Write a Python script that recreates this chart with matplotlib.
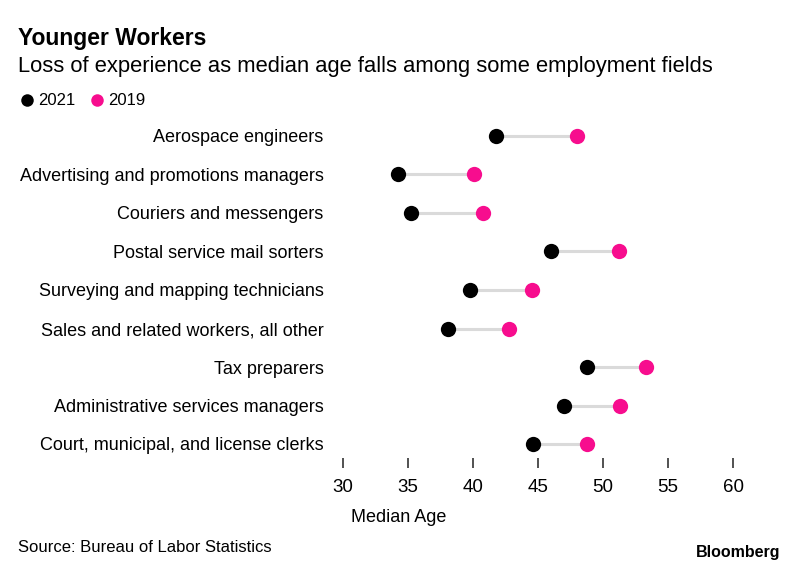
import matplotlib
matplotlib.use("Agg")
import matplotlib.pyplot as plt
from matplotlib.lines import Line2D

plt.rcParams['font.family'] = ['Liberation Sans', 'DejaVu Sans']

categories = [
    "Aerospace engineers",
    "Advertising and promotions managers",
    "Couriers and messengers",
    "Postal service mail sorters",
    "Surveying and mapping technicians",
    "Sales and related workers, all other",
    "Tax preparers",
    "Administrative services managers",
    "Court, municipal, and license clerks",
]
age_2021 = [41.8, 34.2, 35.2, 46.0, 39.8, 38.1, 48.8, 47.0, 44.6]
age_2019 = [48.0, 40.1, 40.8, 51.2, 44.5, 42.8, 53.3, 51.3, 48.8]
xticks = [30, 35, 40, 45, 50, 55, 60]

BLACK = "#000000"
PINK = "#f70d8e"
GRAY = "#dadada"

W, H = 795, 569
fig = plt.figure(figsize=(W / 100, H / 100), dpi=100)

left, right, top, bottom = 343, 733, 120, 458
ax = fig.add_axes([left / W, 1 - bottom / H, (right - left) / W, (bottom - top) / H])

ys = list(range(len(categories)))
for y, a, b in zip(ys, age_2021, age_2019):
    ax.plot([a, b], [y, y], color=GRAY, lw=2.2, zorder=1, solid_capstyle='butt')
ax.plot(age_2021, ys, 'o', color=BLACK, ms=11, zorder=3, clip_on=False, markeredgewidth=0)
ax.plot(age_2019, ys, 'o', color=PINK, ms=11, zorder=3, clip_on=False, markeredgewidth=0)

ax.set_xlim(30, 60)
ax.set_ylim(8 + 14 / 38.5, -16 / 38.5)
ax.set_xticks(xticks)
ax.set_xticklabels([str(t) for t in xticks], fontsize=13.5)
ax.set_yticks(ys)
ax.set_yticklabels(categories, fontsize=13)
ax.tick_params(axis='y', length=0, pad=14)
ax.tick_params(axis='x', length=7, width=1.2, color='#333333', pad=8, direction='out')
for s in ax.spines.values():
    s.set_visible(False)

fig.text(351 / W, 1 - 518 / H, "Median Age", fontsize=13, ha='left', va='center')

fig.text(18 / W, 1 - 38 / H, "Younger Workers", fontsize=16.5, fontweight='bold', ha='left', va='center')
fig.text(18 / W, 1 - 66 / H, "Loss of experience as median age falls among some employment fields",
         fontsize=15.8, ha='left', va='center')

# legend
fig.add_artist(Line2D([27 / W], [1 - 100 / H], marker='o', color=BLACK, ms=9, markeredgewidth=0, linestyle='none'))
fig.text(38 / W, 1 - 100 / H, "2021", fontsize=12, ha='left', va='center')
fig.add_artist(Line2D([97 / W], [1 - 100 / H], marker='o', color=PINK, ms=9, markeredgewidth=0, linestyle='none'))
fig.text(108 / W, 1 - 100 / H, "2019", fontsize=12, ha='left', va='center')

fig.text(18 / W, 1 - 548 / H, "Source: Bureau of Labor Statistics", fontsize=12, ha='left', va='center')
fig.text(780 / W, 1 - 553 / H, "Bloomberg", fontsize=11.5, fontweight='bold', ha='right', va='center')

fig.savefig("out.png", dpi=100, facecolor='white')
